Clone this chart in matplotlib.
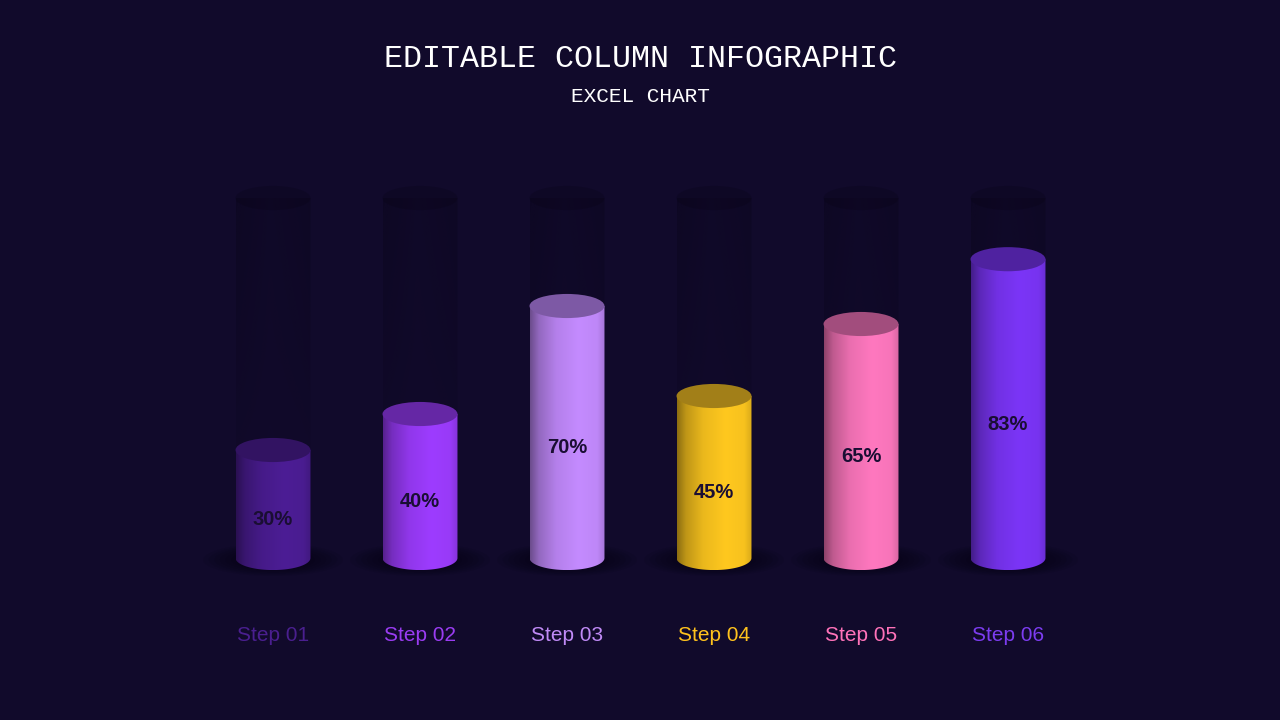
import numpy as np
import matplotlib.pyplot as plt
from matplotlib.patches import Ellipse, PathPatch
from matplotlib.path import Path
from matplotlib.colors import to_rgb

steps = ['Step 01', 'Step 02', 'Step 03', 'Step 04', 'Step 05', 'Step 06']
values = [30, 40, 70, 45, 65, 83]
body_colors = ['#4c1d95', '#9d3cff', '#c48bff', '#ffc81f', '#ff78bf', '#7b35f7']
label_colors = ['#4a1f8f', '#9a3cf2', '#c08af6', '#ffc21d', '#ff72b9', '#7c3cf0']

BG = '#110a2b'
W = 0.51    # cylinder width (x units)
EH = 6.7    # ellipse height (y units)

fig = plt.figure(figsize=(12.8, 7.2), dpi=100, facecolor=BG)
ax = fig.add_axes([0, 0, 1, 1])
ax.set_facecolor(BG)
ax.axis('off')


def body_path(x, top):
    th = np.linspace(np.pi, 2 * np.pi, 60)
    pts = [(x - W / 2, top)]
    pts += [(x + W / 2 * np.cos(t), EH / 2 * np.sin(t)) for t in th]
    pts += [(x + W / 2, top), (x - W / 2, top)]
    return Path(pts, closed=True)


def shade(color):
    t = np.linspace(0, 1, 200)
    f = np.interp(t, [0, 0.12, 0.35, 0.65, 0.9, 1], [0.55, 0.75, 0.92, 1.0, 0.97, 0.85])
    rgb = np.array(to_rgb(color))
    return np.clip(f[:, None] * rgb, 0, 1)[None, :, :]


for i, (v, c) in enumerate(zip(values, body_colors)):
    # ghost cylinder (100%)
    gp = PathPatch(body_path(i, 100), fc='none', ec='none')
    ax.add_patch(gp)
    yy = np.linspace(1, 0, 120)
    xx = np.linspace(0, 1, 60)
    va = np.interp(yy, [0, 0.2, 0.6, 1], [0.0, 0.04, 0.16, 0.26])
    ha = np.interp(xx, [0, 0.15, 0.45, 0.6, 0.85, 1], [1.0, 0.8, 0.4, 0.5, 0.7, 0.9])
    g = np.zeros((120, 60, 4))
    g[..., :3] = to_rgb('#05020f')
    g[..., 3] = va[:, None] * ha[None, :]
    im = ax.imshow(g, extent=[i - W / 2, i + W / 2, -EH / 2, 100], aspect='auto',
                   zorder=1, interpolation='bilinear')
    im.set_clip_path(gp)
    ax.add_patch(Ellipse((i, 100), W, EH, fc='#05020f', alpha=0.2, ec='none', zorder=1.5))

    # soft shadow at the base
    for k in range(8):
        s = 1 - k * 0.08
        ax.add_patch(Ellipse((i, -0.5), 0.95 * s, 9 * s, fc='#05020f', alpha=0.1, ec='none', zorder=2))

    # cylinder body
    bp = PathPatch(body_path(i, v), fc='none', ec='none')
    ax.add_patch(bp)
    im = ax.imshow(shade(c), extent=[i - W / 2, i + W / 2, -EH / 2, v], aspect='auto',
                   zorder=3, interpolation='bilinear')
    im.set_clip_path(bp)
    top = np.array(to_rgb(c)) * 0.63 + np.array(to_rgb(BG)) * 0.1
    ax.add_patch(Ellipse((i, v), W, EH, fc=np.clip(top, 0, 1), ec='none', zorder=4))

    ax.text(i, v / 2 - 4.4, f'{v}%', ha='center', va='center', fontsize=14.5,
            fontweight='bold', family='Liberation Sans', color='#1a0e33', zorder=5)
    ax.text(i, -21.5, steps[i], ha='center', va='center', fontsize=15,
            family='Liberation Sans', color=label_colors[i], zorder=5)

ax.set_xlim(-273 / 147, (1280 - 273) / 147)
ax.set_ylim(-162 / 3.6, 558 / 3.6)

fig.text(0.5, 1 - 59 / 720, 'EDITABLE COLUMN INFOGRAPHIC', ha='center', va='center',
         fontsize=22.8, family='Liberation Mono', color='white')
fig.text(0.5, 1 - 96 / 720, 'EXCEL CHART', ha='center', va='center',
         fontsize=15.2, family='Liberation Mono', color='white')

fig.savefig('out.png', dpi=100, facecolor=BG)
